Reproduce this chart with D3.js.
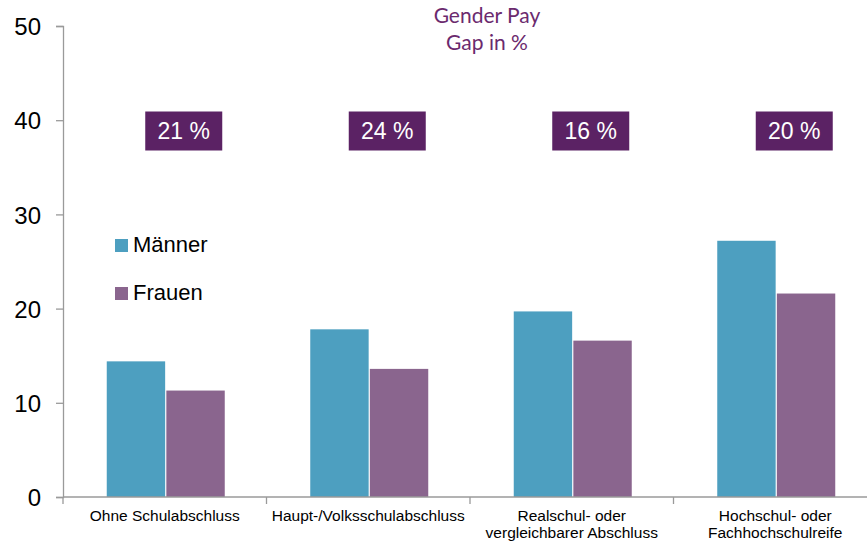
<!DOCTYPE html>
<html>
<head>
<meta charset="utf-8">
<script src="https://cdn.jsdelivr.net/npm/d3@7"></script>
<style>
  html, body { margin: 0; padding: 0; background: #fff; }
  svg { display: block; }
</style>
</head>
<body>
<svg id="chart" width="867" height="545"></svg>
<script>
// Daten
const categories = [
  ['Ohne Schulabschluss'],
  ['Haupt-/Volksschulabschluss'],
  ['Realschul- oder', 'vergleichbarer Abschluss'],
  ['Hochschul- oder', 'Fachhochschulreife']
]
const seriesNames = ['Männer', 'Frauen']
const maenner = [14.4, 17.8, 19.7, 27.2]
const frauen = [11.3, 13.6, 16.6, 21.6]
const payGap = ['21 %', '24 %', '16 %', '20 %']
const yTicks = [0, 10, 20, 30, 40, 50]

const colors = { 'Männer': '#4d9fc0', 'Frauen': '#8a658e' }
const purple = '#5b2264'

const svg = d3.select('#chart')
const margin = { left: 63, right: -10, top: 26, bottom: 48 }
const width = 867, height = 545

const x = d3.scaleBand()
  .domain(d3.range(categories.length))
  .range([margin.left, width - margin.right])
  .padding(0)

const y = d3.scaleLinear()
  .domain([0, 50])
  .range([height - margin.bottom, margin.top])

const xSub = d3.scaleBand()
  .domain(seriesNames)
  .range([x.bandwidth() / 2 - 58, x.bandwidth() / 2 + 60])
  .paddingInner(0.02)

const rows = categories.map((c, i) => ({ i, values: [
  { key: 'Männer', value: maenner[i] },
  { key: 'Frauen', value: frauen[i] }
] }))

// Balken
const groups = svg.append('g').selectAll('g')
  .data(rows)
  .enter().append('g')
  .attr('transform', d => `translate(${x(d.i)},0)`)

groups.selectAll('rect')
  .data(d => d.values)
  .enter().append('rect')
  .attr('x', d => xSub(d.key))
  .attr('width', xSub.bandwidth())
  .attr('y', d => y(d.value))
  .attr('height', d => y(0) - y(d.value))
  .attr('fill', d => colors[d.key])

// Y-Achse
const yAxis = svg.append('g')
  .attr('transform', `translate(${margin.left},0)`)
  .call(d3.axisLeft(y).tickValues(yTicks).tickSize(7).tickPadding(15))
yAxis.select('.domain').attr('stroke', '#9a9a9a').attr('stroke-width', 1.3)
yAxis.selectAll('.tick line').attr('stroke', '#9a9a9a').attr('stroke-width', 1.3)
yAxis.selectAll('.tick text')
  .attr('font-family', 'Liberation Sans, Arial, sans-serif')
  .attr('font-size', '24px')
  .attr('fill', '#000')
  .attr('dy', '0.36em')

// X-Achse
const xAxisG = svg.append('g')
  .attr('transform', `translate(0,${y(0)})`)
xAxisG.append('line')
  .attr('x1', margin.left).attr('x2', width)
  .attr('stroke', '#9a9a9a').attr('stroke-width', 1.3)
xAxisG.selectAll('line.tick')
  .data(d3.range(categories.length + 1))
  .enter().append('line')
  .attr('class', 'tick')
  .attr('x1', d => margin.left + d * x.bandwidth())
  .attr('x2', d => margin.left + d * x.bandwidth())
  .attr('y1', 0).attr('y2', 7)
  .attr('stroke', '#9a9a9a').attr('stroke-width', 1.3)

const xLabels = svg.append('g').selectAll('text')
  .data(categories)
  .enter().append('text')
  .attr('x', (d, i) => x(i) + x.bandwidth() / 2)
  .attr('y', 521)
  .attr('text-anchor', 'middle')
  .attr('font-family', 'Liberation Sans, Arial, sans-serif')
  .attr('font-size', '15.5px')
  .attr('fill', '#000')
xLabels.selectAll('tspan')
  .data(d => d)
  .enter().append('tspan')
  .attr('x', function() { return this.parentNode.getAttribute('x') })
  .attr('dy', (d, i) => i === 0 ? 0 : 17)
  .text(d => d)

// Gender Pay Gap Boxen
const gapG = svg.append('g').selectAll('g')
  .data(payGap)
  .enter().append('g')
  .attr('transform', (d, i) => `translate(${x(i) + x.bandwidth() / 2 + 19},131)`)
gapG.append('rect')
  .attr('x', -38.5).attr('y', -19.5)
  .attr('width', 77).attr('height', 39)
  .attr('fill', purple)
gapG.append('text')
  .attr('text-anchor', 'middle')
  .attr('dy', '0.36em')
  .attr('font-family', 'Liberation Sans, Arial, sans-serif')
  .attr('font-size', '23px')
  .attr('fill', '#fff')
  .text(d => d)

// Titel
svg.append('text')
  .attr('x', 487).attr('y', 23)
  .attr('text-anchor', 'middle')
  .attr('font-family', 'Lato, Open Sans, sans-serif')
  .attr('font-size', '21px')
  .attr('fill', '#6b2a6e')
  .selectAll('tspan')
  .data(['Gender Pay', 'Gap in %'])
  .enter().append('tspan')
  .attr('x', 487)
  .attr('dy', (d, i) => i === 0 ? 0 : 27)
  .text(d => d)

// Legende
const legend = svg.append('g').selectAll('g')
  .data(seriesNames)
  .enter().append('g')
  .attr('transform', (d, i) => `translate(115,${239 + i * 48})`)
legend.append('rect')
  .attr('width', 13).attr('height', 13)
  .attr('fill', d => colors[d])
legend.append('text')
  .attr('x', 18).attr('y', 13)
  .attr('font-family', 'Liberation Sans, Arial, sans-serif')
  .attr('font-size', '22px')
  .attr('fill', '#000')
  .text(d => d)
</script>
</body>
</html>
